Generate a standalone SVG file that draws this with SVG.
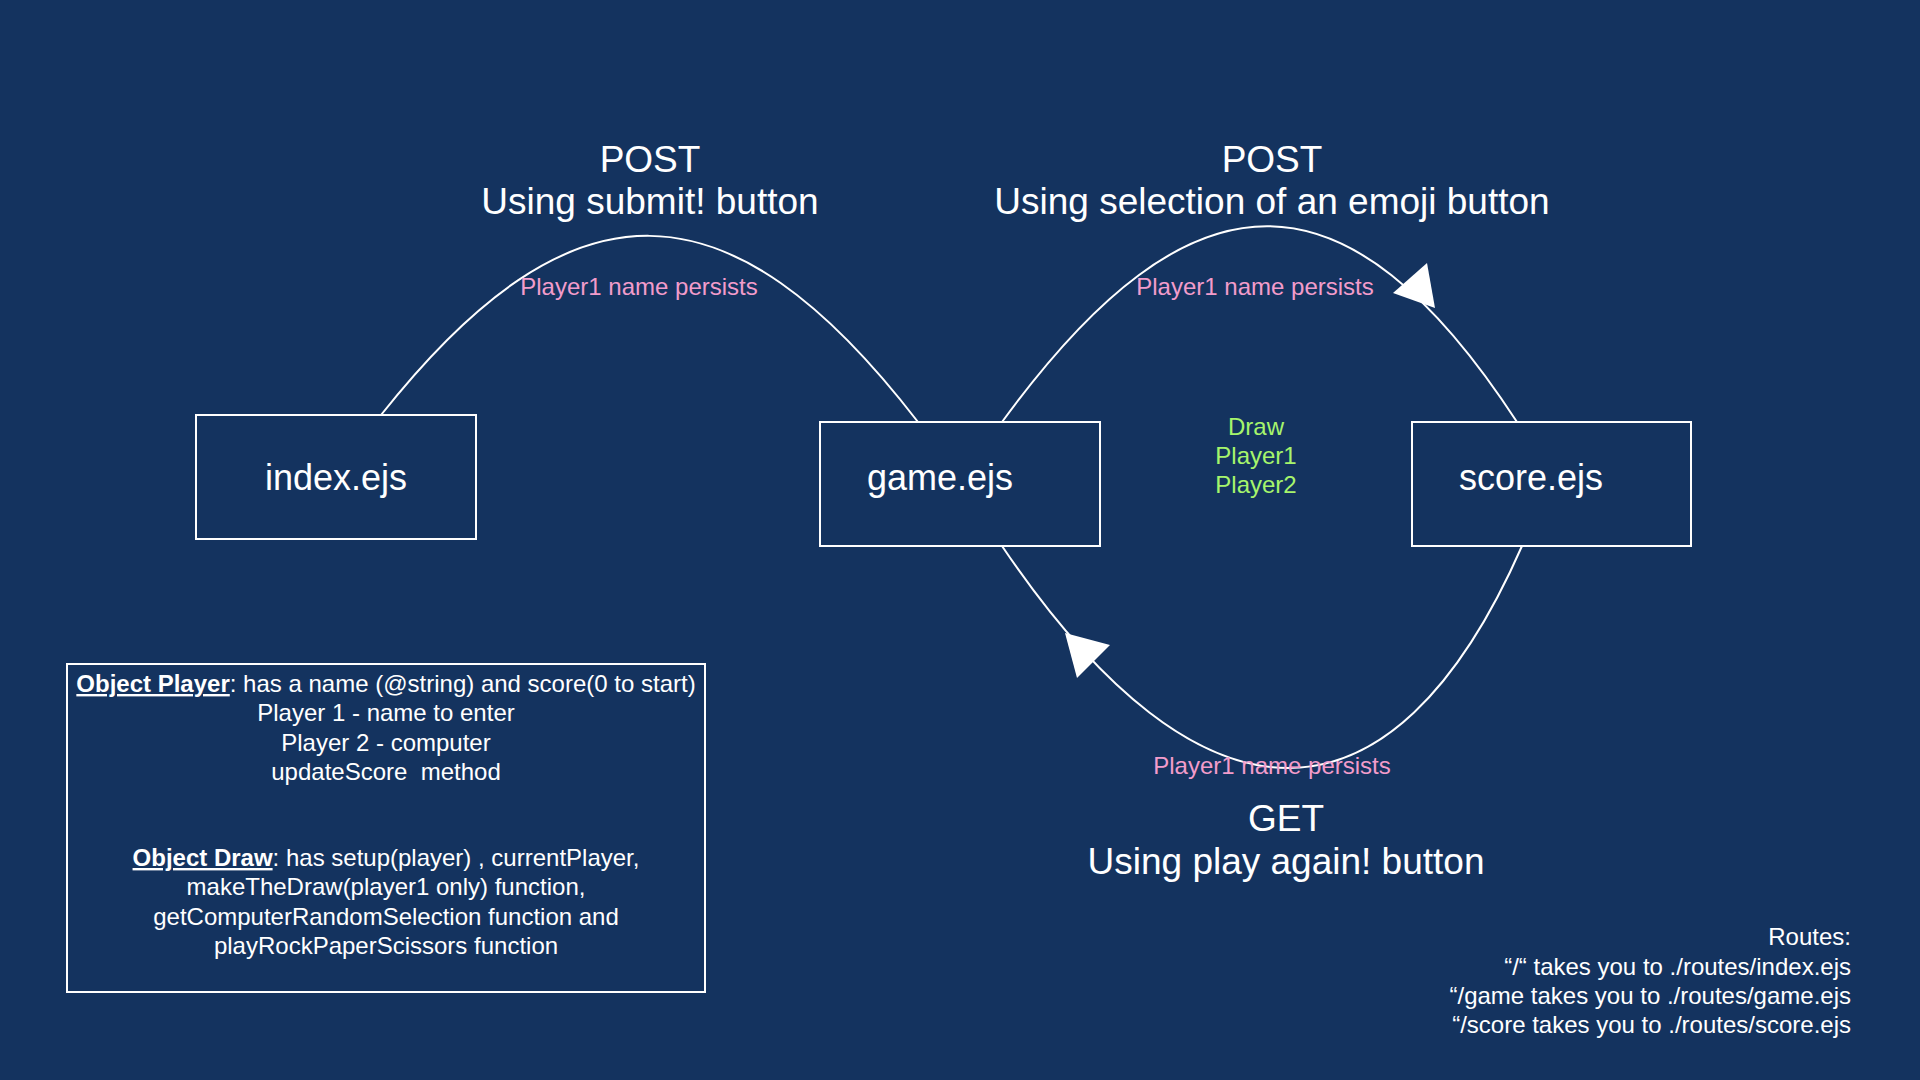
<svg xmlns="http://www.w3.org/2000/svg" width="1920" height="1080" viewBox="0 0 1920 1080">
<style>
text{font-family:"Liberation Sans",Arial,sans-serif;fill:#ffffff}
.node{fill:none;stroke:#ffffff;stroke-width:2}
.nl{font-size:36px;text-anchor:middle}
.title{font-size:37px;text-anchor:middle}
.pink{font-size:24px;fill:#f29ccb;text-anchor:middle}
.green{font-size:24px;fill:#a6f56c;text-anchor:middle}
.body{font-size:24px;text-anchor:middle;white-space:pre}
.routes{font-size:24px;text-anchor:end;white-space:pre}
.conn{fill:none;stroke:#ffffff;stroke-width:2}
.head{fill:#ffffff;stroke:none}
.u{font-weight:bold;text-decoration:underline}
</style>
<rect x="0" y="0" width="1920" height="1080" fill="#14335f"/>
<g id="connectors">
<path class="conn" d="M381,415 C571,175 728,175 918,422"/>
<path class="conn" d="M1002,422 C1192,161 1347,161 1517,422"/>
<polygon class="head" points="1435,308 1393,293 1427,263"/>
<path class="conn" d="M1522,546 C1392,842 1202,842 1002,546"/>
<polygon class="head" points="1065,633 1077,678 1110,645"/>
</g>
<g id="index">
<rect class="node" x="196" y="415" width="280" height="124"/>
<text class="nl" x="336" y="490">index.ejs</text>
</g>
<g id="game">
<rect class="node" x="820" y="422" width="280" height="124"/>
<text class="nl" x="940" y="490">game.ejs</text>
</g>
<g id="score">
<rect class="node" x="1412" y="422" width="279" height="124"/>
<text class="nl" x="1531" y="490">score.ejs</text>
</g>
<g id="labels">
<text class="title" x="650" y="172">POST</text>
<text class="title" x="650" y="214">Using submit! button</text>
<text class="title" x="1272" y="172">POST</text>
<text class="title" x="1272" y="214">Using selection of an emoji button</text>
<text class="pink" x="639" y="295">Player1 name persists</text>
<text class="pink" x="1255" y="295">Player1 name persists</text>
<text class="pink" x="1272" y="774">Player1 name persists</text>
<text class="title" x="1286" y="831">GET</text>
<text class="title" x="1286" y="874">Using play again! button</text>
<text class="green" x="1256" y="435">Draw</text>
<text class="green" x="1256" y="464">Player1</text>
<text class="green" x="1256" y="493">Player2</text>
</g>
<g id="objects">
<rect class="node" x="67" y="664" width="638" height="328"/>
<text class="body" x="386" y="692"><tspan class="u">Object Player</tspan>: has a name (@string) and score(0 to start)</text>
<text class="body" x="386" y="721">Player 1 - name to enter</text>
<text class="body" x="386" y="751">Player 2 - computer</text>
<text class="body" x="386" y="780">updateScore  method</text>
<text class="body" x="386" y="866"><tspan class="u">Object Draw</tspan>: has setup(player) , currentPlayer,</text>
<text class="body" x="386" y="895">makeTheDraw(player1 only) function,</text>
<text class="body" x="386" y="925">getComputerRandomSelection function and</text>
<text class="body" x="386" y="954">playRockPaperScissors function</text>
</g>
<g id="routes">
<text class="routes" x="1851" y="945">Routes:</text>
<text class="routes" x="1851" y="975">“/“ takes you to ./routes/index.ejs</text>
<text class="routes" x="1851" y="1004">“/game takes you to ./routes/game.ejs</text>
<text class="routes" x="1851" y="1033">“/score takes you to ./routes/score.ejs</text>
</g>
</svg>
